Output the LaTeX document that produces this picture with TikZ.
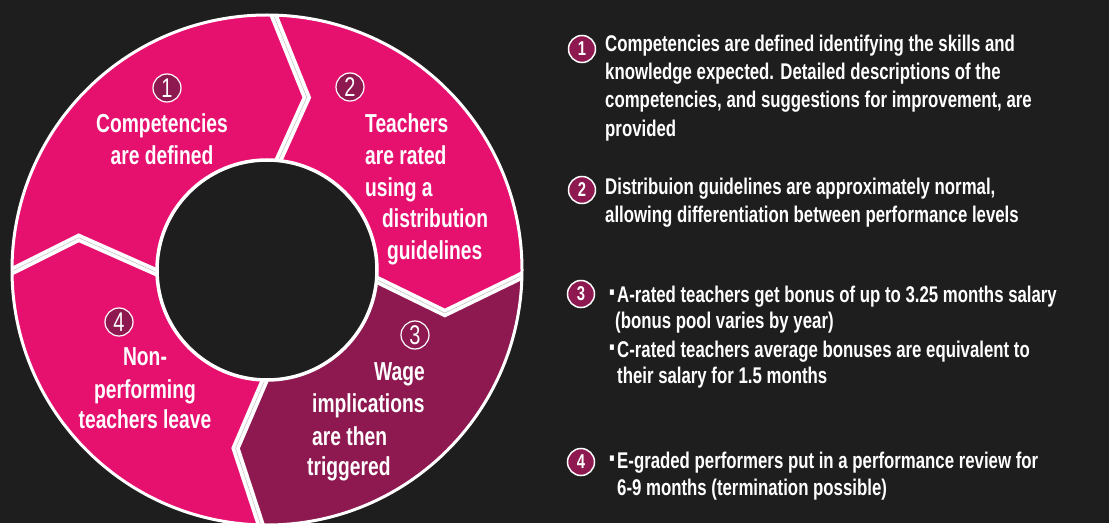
\documentclass[tikz,border=0pt]{standalone}
\usepackage{fontspec}
\setmainfont{Liberation Sans}[FakeStretch=0.74]
\definecolor{bg}{HTML}{1E1E1E}
\definecolor{pinkc}{HTML}{E6106F}
\definecolor{darkm}{HTML}{8E1850}
\definecolor{sepgray}{HTML}{BDBDBD}
\begin{document}
\begin{tikzpicture}[x=1pt,y=1pt,
 ringtxt/.style={text=white, font=\fontsize{26}{32}\selectfont\bfseries, inner sep=0pt},
 coltxt/.style={text=white, font=\fontsize{22.7}{28}\selectfont\bfseries, inner sep=0pt, anchor=base west},
 ringnum/.style={circle, draw=white, line width=1.2pt, fill=darkm, text=white, minimum size=28pt, inner sep=0pt, font=\fontsize{27}{27}\selectfont},
 colnum/.style={circle, draw=white, line width=1.5pt, fill=darkm, text=white, minimum size=27pt, inner sep=0pt, font=\fontsize{20}{20}\selectfont\bfseries},
 bul/.style={text=white, font=\fontsize{22}{22}\selectfont, inner sep=0pt},
 sepline/.style={draw=white, line width=8pt, line join=miter},
 sepmid/.style={draw=sepgray, line width=0.5pt, line join=miter}
]
\fill[bg] (0,0) rectangle (1109,523);
\useasboundingbox (0,0) rectangle (1109,523);
\coordinate (C) at (267,253);
\begin{scope}[shift={(C)}]
  \fill[pinkc, even odd rule] (0,0) circle (255) (0,0) circle (110);
  \fill[darkm] (-4:110) -- (-13.6:183) -- (-0.7:255) arc[start angle=-0.7, end angle=-91, radius=255] -- (-100:181) -- (-90:110) arc[start angle=-90, end angle=-4, radius=110] -- cycle;
  \begin{scope}
    \clip (0,0) circle (255);
    \foreach \a/\b/\c/\r in {85/77/89/177, -4/-13.6/-0.7/183, -90/-100/-91/181, 182.6/170.3/180.8/191}{
      \draw[sepline] (\a:105) -- (\b:\r) -- (\c:260);
      \draw[sepmid] (\a:105) -- (\b:\r) -- (\c:260);
    }
  \end{scope}
  \fill[bg] (0,0) circle (110);
  \draw[white, line width=3pt] (0,0) circle (255);
  \draw[white, line width=3.5pt] (0,0) circle (110);
\end{scope}
% ring texts
\node[ringnum] (r1) at (167,435) {1};
\node[ringtxt, anchor=base] (t1a) at (162,390) {Competencies};
\node[ringtxt, anchor=base] (t1b) at (162,358) {are defined};
\node[ringnum] (r2) at (350,436) {2};
\node[ringtxt, anchor=base west] (t2a) at (365,390) {Teachers};
\node[ringtxt, anchor=base west] (t2b) at (365,358) {are rated};
\node[ringtxt, anchor=base west] (t2c) at (365,326) {using a};
\node[ringtxt, anchor=base west] (t2d) at (382,295) {distribution};
\node[ringtxt, anchor=base west] (t2e) at (387,263) {guidelines};
\node[ringnum] (r3) at (415,188) {3};
\node[ringtxt, anchor=base east] (t3a) at (425,143) {Wage};
\node[ringtxt, anchor=base west] (t3b) at (312,111) {implications};
\node[ringtxt, anchor=base west] (t3c) at (312,78) {are then};
\node[ringtxt, anchor=base west] (t3d) at (307,48) {triggered};
\node[ringnum] (r4) at (119,201) {4};
\node[ringtxt, anchor=base] (t4a) at (145,158) {Non-};
\node[ringtxt, anchor=base] (t4b) at (145,125) {performing};
\node[ringtxt, anchor=base] (t4c) at (145,95) {teachers leave};
% column
\node[colnum] (n1) at (582,474) {1};
\node[coltxt] (p1a) at (605,471) {Competencies are defined identifying the skills and};
\node[coltxt] (p1b) at (605,443) {knowledge expected. Detailed descriptions of the};
\node[coltxt] (p1c) at (605,415) {competencies, and suggestions for improvement, are};
\node[coltxt] (p1d) at (605,386) {provided};
\node[colnum] (n2) at (582,333) {2};
\node[coltxt] (p2a) at (605,328) {Distribuion guidelines are approximately normal,};
\node[coltxt] (p2b) at (605,300) {allowing differentiation between performance levels};
\node[colnum] (n3) at (581,229) {3};
\node[bul] (b3a) at (612,228.5) {▪};
\node[coltxt] (p3a) at (617,221) {A-rated teachers get bonus of up to 3.25 months salary};
\node[coltxt] (p3b) at (615,195) {(bonus pool varies by year)};
\node[bul] (b3b) at (612,173.5) {▪};
\node[coltxt] (p3c) at (617,166) {C-rated teachers average bonuses are equivalent to};
\node[coltxt] (p3d) at (617,140) {their salary for 1.5 months};
\node[colnum] (n4) at (581,61) {4};
\node[bul] (b4a) at (612,62.5) {▪};
\node[coltxt] (p4a) at (617,55) {E-graded performers put in a performance review for};
\node[coltxt] (p4b) at (617,28) {6-9 months (termination possible)};
\end{tikzpicture}
\end{document}
